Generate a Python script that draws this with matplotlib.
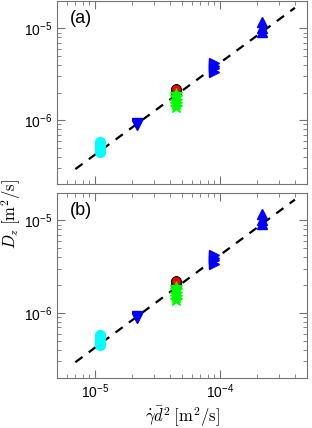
#!/usr/bin/env python3

# diffusion coefficient D_z against shear rate times d^2, two panels

import numpy as np
import matplotlib
matplotlib.use('Agg')
import matplotlib.pyplot as plt

matplotlib.rcParams['font.family'] = 'Liberation Sans'
matplotlib.rcParams['mathtext.fontset'] = 'cm'
matplotlib.rcParams['font.size'] = 10

# data (x in m^2/s, D_z in m^2/s)
x_cyan = [1.1e-5, 1.1e-5, 1.1e-5, 1.1e-5]
y_cyan = [4.5e-7, 4.9e-7, 5.4e-7, 5.8e-7]
x_down = [2.2e-5, 2.2e-5, 2.2e-5]
y_down = [8.8e-7, 9.1e-7, 9.4e-7]
x_red = [4.5e-5, 4.5e-5, 4.5e-5]
y_red = [2.0e-6, 2.1e-6, 2.22e-6]
x_star = [4.5e-5, 4.5e-5, 4.5e-5, 4.5e-5, 4.5e-5]
y_star = [1.38e-6, 1.5e-6, 1.62e-6, 1.78e-6, 1.92e-6]
x_right = [9.0e-5, 9.0e-5, 9.0e-5, 9.0e-5]
y_right = [3.4e-6, 3.7e-6, 3.95e-6, 4.2e-6]
x_up = [2.2e-4, 2.2e-4, 2.2e-4]
y_up = [9.2e-6, 1.02e-5, 1.17e-5]

fit_x = [7e-6, 4e-4]
fit_slope = 0.042

fig = plt.figure(figsize=(3.12, 4.28), dpi=100)
ax_a = fig.add_axes([0.183, 0.569, 0.801, 0.429])
ax_b = fig.add_axes([0.183, 0.1175, 0.801, 0.4325])

for ax, tag in [(ax_a, '(a)'), (ax_b, '(b)')]:
    ax.plot(fit_x, [fit_slope * v for v in fit_x], 'k--', lw=1.6,
            dashes=(4, 3.5), zorder=1)
    ax.plot(x_cyan, y_cyan, 'o', color='cyan', ms=7, mec='cyan', zorder=2)
    ax.plot(x_down, y_down, 'v', color='blue', ms=7.5, mec='blue', zorder=2)
    ax.plot(x_red, y_red, 'o', color='red', ms=7, mec='k', mew=0.8, zorder=2)
    ax.plot(x_star, y_star, '*', color='lime', ms=9, mec='lime', zorder=3)
    ax.plot(x_right, y_right, '>', color='blue', ms=7.5, mec='blue', zorder=2)
    ax.plot(x_up, y_up, '^', color='blue', ms=7.5, mec='blue', zorder=2)

    ax.set_xscale('log')
    ax.set_yscale('log')
    ax.set_xlim(5e-6, 5e-4)
    ax.set_ylim(2e-7, 2e-5)
    ax.tick_params(which='both', direction='in', top=True, right=True,
                   color='0.45')
    ax.tick_params(which='major', length=6)
    ax.tick_params(which='minor', length=3)
    for sp in ax.spines.values():
        sp.set_color('0.45')
    ax.text(0.05, 0.95, tag, transform=ax.transAxes, fontsize=13,
            va='top', ha='left')

ax_a.tick_params(labelbottom=False)
ax_b.set_xlabel(r'$\dot{\gamma}\bar{d}^2\;[\mathrm{m}^2/\mathrm{s}]$',
                fontsize=12, labelpad=2)
fig.text(0.035, 0.5, r'$D_z\;[\mathrm{m}^2/\mathrm{s}]$', rotation=90,
         fontsize=12, va='center', ha='center')

fig.savefig('out.png', dpi=100)
